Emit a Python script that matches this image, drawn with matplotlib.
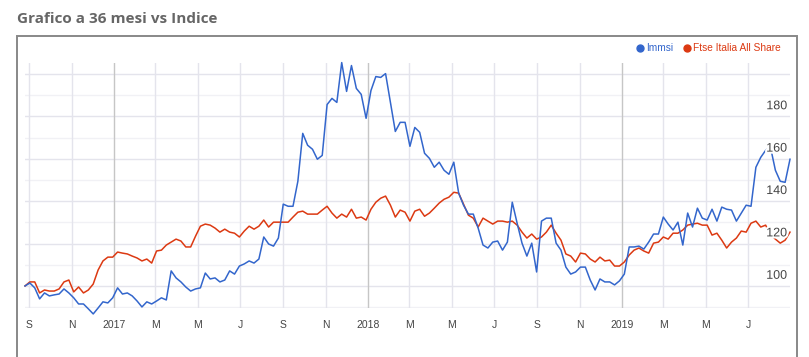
import matplotlib
matplotlib.use("Agg")
import matplotlib.pyplot as plt
import matplotlib.patheffects as pe
from matplotlib.lines import Line2D
from matplotlib.patches import Rectangle
import pandas as pd

# weekly values, rebased to 100 at the start
immsi = [
    100, 101.4, 99.1, 93.9, 96.7, 95.3, 95.8, 96.2, 98.6, 96.7,
    94.4, 91.5, 91.5, 89.2, 86.8, 89.6, 92.5, 92.0, 94.4, 99.1,
    96.2, 96.7, 95.3, 92.9, 90.1, 92.5, 91.5, 92.9, 94.4, 93.4,
    107.1, 103.8, 101.9, 99.5, 97.6, 98.6, 99.1, 106.1, 103.3, 103.8,
    101.9, 102.8, 107.1, 105.6, 109.4, 110.4, 111.8, 110.8, 112.7, 123.1,
    119.8, 118.8, 122.6, 138.6, 137.6, 137.6, 149.4, 172.0, 166.4, 164.5,
    159.8, 161.6, 185.6, 188.5, 186.6, 205.4, 191.8, 204.0, 193.2, 190.4,
    179.1, 192.2, 198.8, 198.4, 200.2, 186.6, 172.9, 177.2, 177.2, 165.9,
    174.8, 172.5, 162.6, 160.2, 156.0, 158.4, 154.6, 152.7, 158.4, 143.8,
    138.1, 133.9, 133.9, 127.3, 119.3, 117.9, 120.7, 121.2, 116.9, 120.7,
    139.5, 129.6, 120.2, 114.1, 120.2, 106.6, 130.6, 132.0, 132.0, 120.2,
    116.9, 108.9, 105.6, 106.6, 108.9, 108.9, 102.8, 98.1, 103.3, 101.9,
    101.9, 100.5, 102.4, 105.6, 118.4, 118.4, 118.8, 117.4, 120.7, 124.5,
    124.5, 132.5, 129.2, 126.4, 130.1, 119.3, 134.4, 127.8, 136.7, 132.0,
    131.1, 136.2, 130.6, 137.2, 136.2, 135.8, 130.6, 134.4, 138.1, 137.6,
    156.0, 160.7, 164.0, 165.4, 154.6, 149.4, 148.9, 159.8,
]
ftse = [
    100, 101.9, 101.9, 96.7, 98.1, 97.6, 97.6, 98.6, 101.9, 102.8,
    97.2, 99.5, 96.7, 98.1, 100.9, 107.5, 111.8, 113.6, 113.6, 116.0,
    115.5, 115.1, 114.1, 113.2, 111.8, 112.7, 110.8, 116.5, 116.9, 119.3,
    120.7, 122.1, 121.2, 118.4, 118.4, 123.5, 128.2, 129.2, 128.7, 127.3,
    125.4, 126.8, 125.4, 124.9, 123.1, 125.9, 128.2, 126.8, 128.2, 131.1,
    127.8, 130.1, 130.1, 130.1, 130.1, 132.5, 134.8, 135.3, 133.9, 133.9,
    133.9, 135.8, 137.6, 134.4, 132.0, 133.9, 132.5, 136.2, 132.0, 132.5,
    131.1, 136.2, 139.5, 141.4, 142.4, 138.1, 132.5, 135.8, 134.8, 130.6,
    135.3, 136.2, 132.9, 134.4, 136.7, 139.1, 140.9, 141.9, 144.2, 143.8,
    138.6, 133.4, 132.0, 127.8, 132.0, 130.6, 129.2, 130.6, 130.6, 130.1,
    130.6, 128.7, 125.4, 122.6, 124.5, 122.1, 123.1, 125.4, 128.7, 124.9,
    121.6, 115.1, 114.1, 111.3, 115.5, 115.1, 112.7, 111.3, 113.6, 111.8,
    112.2, 109.4, 109.4, 111.3, 114.6, 116.9, 117.9, 116.5, 115.5, 120.2,
    120.7, 123.1, 122.1, 124.9, 124.9, 126.4, 128.7, 129.2, 129.6, 128.7,
    128.7, 124.0, 124.9, 121.6, 117.9, 120.7, 122.6, 125.9, 125.4, 129.6,
    130.6, 127.8, 128.7, 124.0, 122.1, 120.2, 121.6, 125.4,
]
start_date = "2016-08-26"

tick_dates = ["2016-09-01", "2016-11-01", "2017-01-01", "2017-03-01", "2017-05-01",
              "2017-07-01", "2017-09-01", "2017-11-01", "2018-01-01", "2018-03-01",
              "2018-05-01", "2018-07-01", "2018-09-01", "2018-11-01", "2019-01-01",
              "2019-03-01", "2019-05-01", "2019-07-01"]
tick_labels = ["S", "N", "2017", "M", "M", "J", "S", "N", "2018", "M",
               "M", "J", "S", "N", "2019", "M", "M", "J"]
y_labels = [100, 120, 140, 160, 180]
y_grid = [90, 100, 110, 120, 130, 140, 150, 160, 170, 180, 190, 200]

BLUE = "#3366cc"
RED = "#dc3912"

dates = pd.date_range(start_date, periods=len(immsi), freq="7D")
ticks = pd.to_datetime(tick_dates)

W, H = 809, 357
fig = plt.figure(figsize=(W / 100, H / 100), dpi=100)
ax = fig.add_axes([25 / W, (H - 308) / H, (790 - 25) / W, (308 - 63) / H])

for v in y_grid:
    c = "#e4e4ec" if v % 20 == 0 else "#f1f1f5"
    ax.axhline(v, color=c, lw=1, zorder=0)
for d, lab in zip(ticks, tick_labels):
    c = "#c6c6c6" if lab.isdigit() else "#e4e4ec"
    ax.axvline(d, color=c, lw=1, zorder=0)

# lines may run a little past the plot area, as in the original
ax.plot(dates, immsi, color=BLUE, lw=1.1, zorder=3, clip_on=False)
ax.plot(dates, ftse, color=RED, lw=1.1, zorder=2, clip_on=False)

ax.set_xlim(dates[0], dates[-1])
ax.set_ylim(89.6, 205.2)
ax.set_xticks(ticks)
ax.set_xticklabels(tick_labels, fontfamily="Liberation Sans", fontsize=7.5, color="#444444")
ax.set_yticks([])
ax.tick_params(axis="x", length=0, pad=9)
for s in ax.spines.values():
    s.set_visible(False)

for v in y_labels:
    ax.annotate(str(v), xy=(1, v), xycoords=("axes fraction", "data"),
                xytext=(-2, 3), textcoords="offset points", ha="right", va="bottom",
                fontfamily="Liberation Sans", fontsize=9, color="#444444", zorder=5,
                path_effects=[pe.withStroke(linewidth=3, foreground="white")])

# frame and title
fig.add_artist(Rectangle((17 / W, -0.1), (797 - 17) / W, (H - 36) / H + 0.1,
                         transform=fig.transFigure, fill=False, edgecolor="#888888", lw=1.4))
fig.text(17 / W, (H - 19) / H, "Grafico a 36 mesi vs Indice", fontfamily="Open Sans",
         fontweight="bold", fontsize=11, color="#666666", va="center")

# legend
ly = (H - 48) / H
fig.add_artist(Line2D([640 / W], [ly], marker="o", ms=5, color=BLUE, transform=fig.transFigure))
fig.text(646 / W, ly, "Immsi", color=BLUE, fontfamily="Liberation Sans", fontsize=7.3, va="center")
fig.add_artist(Line2D([687 / W], [ly], marker="o", ms=5, color=RED, transform=fig.transFigure))
fig.text(693 / W, ly, "Ftse Italia All Share", color=RED, fontfamily="Liberation Sans",
         fontsize=7.3, va="center")

fig.savefig("out.png", dpi=100)
